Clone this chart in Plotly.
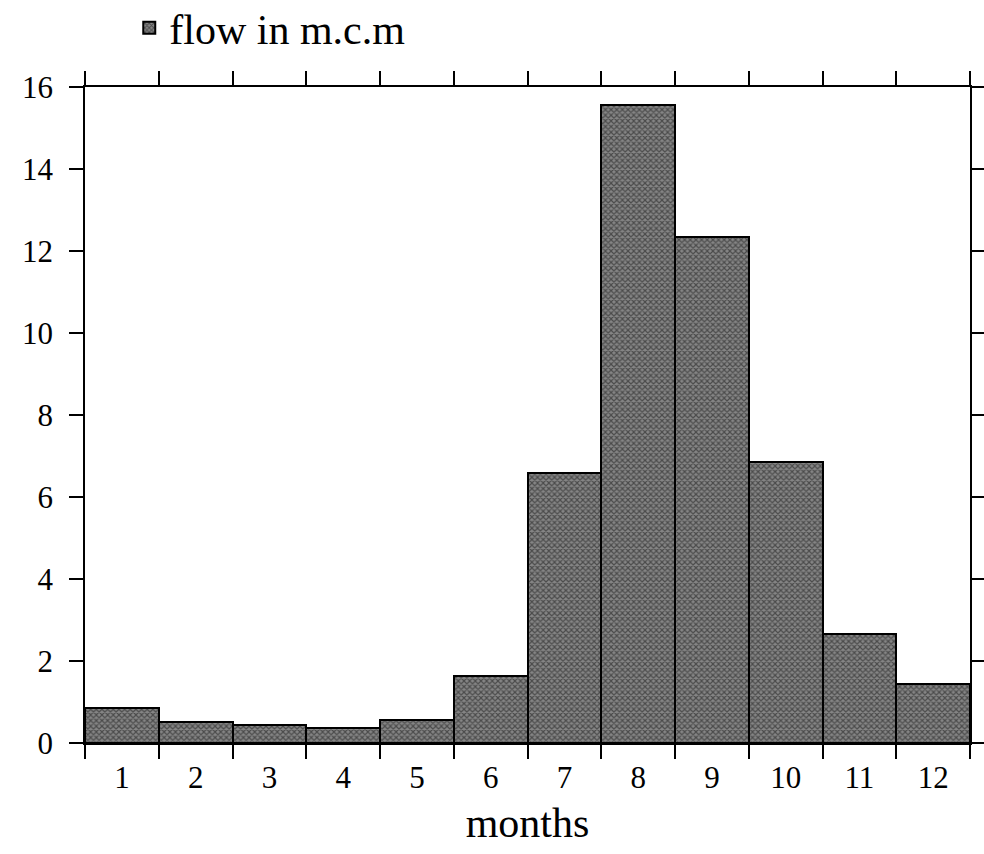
import plotly.graph_objects as go

months = [1, 2, 3, 4, 5, 6, 7, 8, 9, 10, 11, 12]
flow = [0.85, 0.52, 0.43, 0.36, 0.57, 1.64, 6.58, 15.55, 12.35, 6.85, 2.65, 1.44]
y_ticks = [0, 2, 4, 6, 8, 10, 12, 14, 16]
series_name = "flow in m.c.m"
x_title = "months"

FONT = "Liberation Serif, Times New Roman, serif"

fig = go.Figure()
fig.add_trace(go.Bar(
    x=months, y=flow, name=series_name, width=1.0,
    marker=dict(
        color="#666666",
        line=dict(color="black", width=2),
        pattern=dict(shape="x", fgcolor="#111111", bgcolor="#858585", size=4, solidity=0.5),
    ),
    showlegend=True,
))

fig.update_layout(
    width=984, height=854,
    margin=dict(l=85, r=14, t=87, b=111, autoexpand=False),
    paper_bgcolor="white", plot_bgcolor="white",
    font=dict(family=FONT, color="black", size=31),
    bargap=0,
    showlegend=True,
    legend=dict(x=0.05, y=1.09, xanchor="left", yanchor="middle",
                font=dict(size=42, family=FONT), bgcolor="rgba(0,0,0,0)",
                itemwidth=30),
)

fig.update_xaxes(
    range=[0.5, 12.5], tickmode="array", tickvals=months, ticktext=[str(m) for m in months],
    ticks="", showline=True, linecolor="black", linewidth=1.5, mirror="ticks",
    showgrid=False, zeroline=False, automargin=False,
    minor=dict(ticks="outside", tick0=0.5, dtick=1, ticklen=14, tickcolor="black", tickwidth=1.5, showgrid=False),
    tickfont=dict(size=31, family=FONT),
    title=dict(text=x_title, font=dict(size=42, family=FONT), standoff=14),
    ticklabelstandoff=6,
)
fig.update_yaxes(
    range=[0, 16], tickmode="array", tickvals=y_ticks,
    ticks="outside", ticklen=14, tickwidth=1.5, tickcolor="black",
    showline=True, linecolor="black", linewidth=1.5, mirror="ticks",
    showgrid=False, zeroline=False, automargin=False,
    tickfont=dict(size=31, family=FONT),
    ticklabelstandoff=10,
)

fig.write_html(
    "out.html",
    config={"displayModeBar": False},
    post_script="document.body.style.margin='0';document.body.style.overflow='hidden';document.documentElement.style.overflow='hidden';",
)
